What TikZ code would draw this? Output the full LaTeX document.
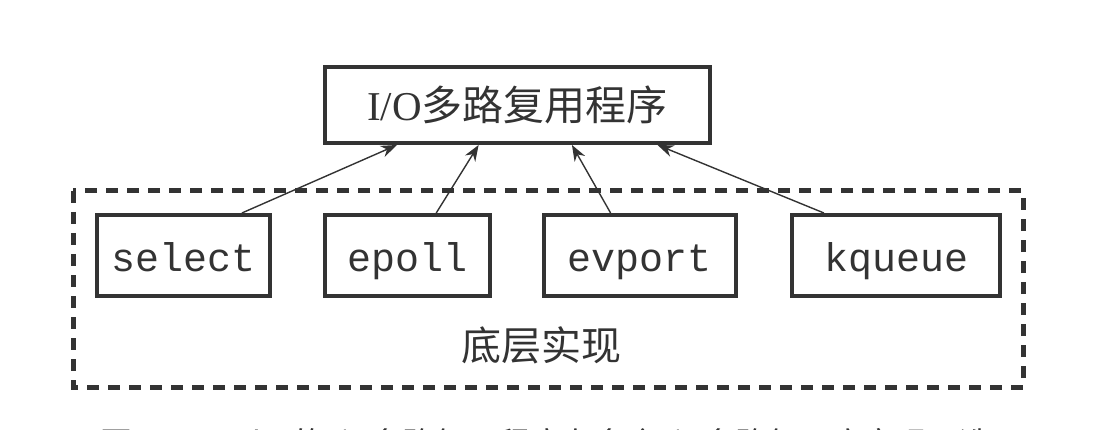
\documentclass[tikz,border=0pt]{standalone}
\usepackage{fontspec}
\setmainfont{Liberation Serif}
\setmonofont{Liberation Mono}
\newfontfamily\cjk{Noto Sans CJK SC}
\usetikzlibrary{arrows.meta,calc}

\definecolor{ink}{HTML}{333333}

\begin{document}
\begin{tikzpicture}[x=1pt,y=-1pt,>={Stealth[length=16pt,width=12pt]},
  box/.style={draw=ink,line width=4pt,inner sep=0pt,text=ink},
  libbox/.style={box,minimum height=81pt,text height=40pt,text depth=7pt,font=\ttfamily\fontsize{40}{48}\selectfont},
  link/.style={->,draw=ink,line width=1.4pt}]

\useasboundingbox (0,0) rectangle (1118,430);

\node[box,minimum width=385pt,minimum height=76pt,font=\fontsize{41}{48}\selectfont]   (mux)   at (517.5,105)   {I/O{\cjk 多路复用程序}};

\node[libbox,minimum width=173pt]   (select)   at (183.5,255.5)   {select};
\node[libbox,minimum width=165pt]   (epoll)    at (407.5,255.5)   {epoll};
\node[libbox,minimum width=192pt]   (evport)   at (640,255.5)     {evport};
\node[libbox,minimum width=208pt]   (kqueue)   at (896,255.5)     {kqueue};

% dashed frame round the libraries
\draw[ink,line width=5pt,dash pattern=on 12pt off 9pt] (73,191) rectangle (1023,387);
\node[text=ink,font=\cjk\fontsize{40}{48}\selectfont]   (impl)   at (541,345)   {底层实现};

\path ($(select.north west)!.83!(select.north east)$)  edge[link]  ($(mux.south west)!.19!(mux.south east)$)
      ($(epoll.north west)!.67!(epoll.north east)$)    edge[link]  ($(mux.south west)!.40!(mux.south east)$)
      ($(evport.north west)!.35!(evport.north east)$)  edge[link]  ($(mux.south west)!.64!(mux.south east)$)
      ($(kqueue.north west)!.16!(kqueue.north east)$)  edge[link]  ($(mux.south west)!.86!(mux.south east)$);

% caption, cut off by the page edge
\node[anchor=base,text=ink,font=\cjk\fontsize{32}{38}\selectfont]   (caption)   at (546,455)
  {图12-3 Redis 的I/O多路复用程序有多个I/O多路复用库实现可选};
\end{tikzpicture}
\end{document}
